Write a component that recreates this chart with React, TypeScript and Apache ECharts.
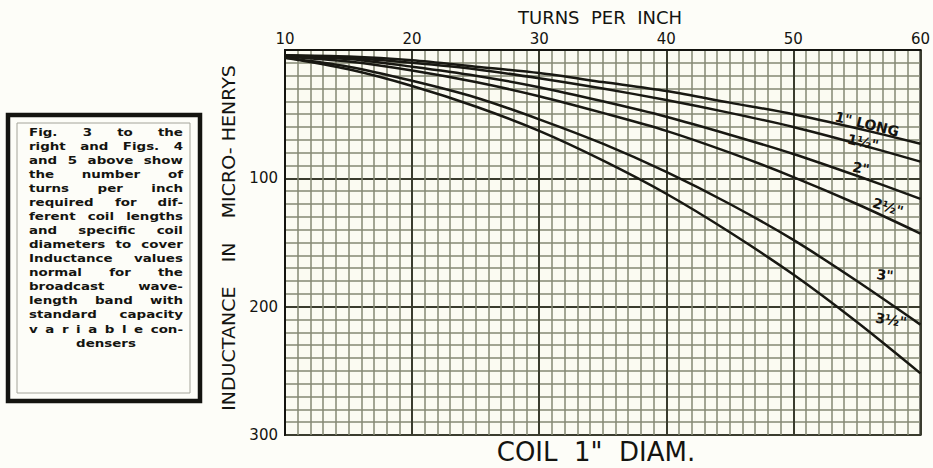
import React, { useEffect, useRef } from "react";
import * as echarts from "echarts";

// Turns per inch (x) and inductance in micro-henrys (y)
const TURNS = [10, 15, 20, 25, 30, 35, 40, 45, 50, 55, 60];
const L_1_LONG = [4, 5, 8, 13, 18, 25, 32, 41, 50, 61, 73];
const L_1_HALF = [4, 6, 10, 15, 22, 30, 39, 49, 60, 73, 87];
const L_2 = [5, 7, 13, 20, 29, 40, 52, 66, 81, 98, 116];
const L_2_HALF = [5, 9, 16, 25, 36, 49, 63, 80, 99, 120, 143];
const L_3 = [6, 13, 24, 37, 54, 73, 95, 120, 148, 180, 214];
const L_3_HALF = [6, 15, 28, 44, 63, 86, 112, 142, 175, 212, 252];

const SERIES_VALUES = [L_1_LONG, L_1_HALF, L_2, L_2_HALF, L_3, L_3_HALF];
const CURVE_LABELS = ['1" LONG', '1½"', '2"', '2½"', '3"', '3½"'];

const X_TITLE = "TURNS  PER  INCH";
const Y_TITLE = "INDUCTANCE    IN    MICRO- HENRYS";
const BOTTOM_TITLE = 'COIL  1"  DIAM.';

const NOTE_LINES: string[][] = [
  ["Fig.", "3", "to", "the"],
  ["right", "and", "Figs.", "4"],
  ["and", "5", "above", "show"],
  ["the", "number", "of"],
  ["turns", "per", "inch"],
  ["required", "for", "dif-"],
  ["ferent", "coil", "lengths"],
  ["and", "specific", "coil"],
  ["diameters", "to", "cover"],
  ["Inductance", "values"],
  ["normal", "for", "the"],
  ["broadcast", "wave-"],
  ["length", "band", "with"],
  ["standard", "capacity"],
  ["v", "a", "r", "i", "a", "b", "l", "e", "con-"],
  ["densers"],
];

const FONT = '"DejaVu Sans", "Liberation Sans", sans-serif';
const INK = "#141410";

export default function App() {
  const ref = useRef<HTMLDivElement>(null);

  useEffect(() => {
    const el = ref.current;
    if (!el) return;
    const chart = echarts.init(el, undefined, { renderer: "svg" });

    // --- justified note text ---
    const noteSize = 11;
    const noteScale = 1.22;
    const noteFont = `bold ${noteSize}px "DejaVu Sans"`;
    const canvas = document.createElement("canvas");
    const ctx = canvas.getContext("2d")!;
    ctx.font = noteFont;
    const textLeft = 29;
    const textRight = 183;
    const textW = textRight - textLeft;
    const lineTop = 132;
    const lineStep = 14.07;
    const noteTexts: any[] = [];
    NOTE_LINES.forEach((tokens, li) => {
      const y = lineTop + li * lineStep;
      if (tokens.length === 1) {
        noteTexts.push({
          type: "text",
          x: (textLeft + textRight) / 2,
          y,
          scaleX: noteScale,
          style: {
            text: tokens[0],
            font: noteFont,
            fill: INK,
            textAlign: "center",
            textVerticalAlign: "middle",
          },
        });
        return;
      }
      const widths = tokens.map((t) => ctx.measureText(t).width * noteScale);
      const sum = widths.reduce((a, b) => a + b, 0);
      const gap = (textW - sum) / (tokens.length - 1);
      let x = textLeft;
      tokens.forEach((t, i) => {
        noteTexts.push({
          type: "text",
          x,
          y,
          scaleX: noteScale,
          style: {
            text: t,
            font: noteFont,
            fill: INK,
            textAlign: "left",
            textVerticalAlign: "middle",
          },
        });
        x += widths[i] + gap;
      });
    });

    const labelPos = [
      { x: 867, y: 124, r: -0.24 },
      { x: 863, y: 142, r: -0.22 },
      { x: 861, y: 168, r: -0.18 },
      { x: 888, y: 207, r: -0.3 },
      { x: 885, y: 275, r: -0.12 },
      { x: 891, y: 320, r: -0.15 },
    ];

    const option: any = {
      animation: false,
      backgroundColor: "#fdfdf8",
      grid: {
        left: 285,
        right: 11,
        top: 50,
        bottom: 33,
        show: true,
        borderColor: INK,
        borderWidth: 2,
        backgroundColor: "#fbfbf2",
      },
      xAxis: [
        {
          type: "value",
          min: 10,
          max: 60,
          interval: 1,
          position: "bottom",
          axisLabel: { show: false },
          axisTick: { show: false },
          axisLine: { show: false },
          splitLine: { show: true, lineStyle: { color: "#858873", width: 1.5 } },
        },
        {
          type: "value",
          min: 10,
          max: 60,
          interval: 10,
          position: "top",
          axisLabel: {
            show: true,
            fontSize: 15,
            color: INK,
            margin: 4,
            fontFamily: FONT,
          },
          axisTick: { show: false },
          axisLine: { show: true, lineStyle: { color: INK, width: 2 } },
          splitLine: { show: true, lineStyle: { color: "#3a3c2e", width: 2 } },
        },
      ],
      yAxis: [
        {
          type: "value",
          min: 0,
          max: 300,
          interval: 10,
          inverse: true,
          axisLabel: { show: false },
          axisTick: { show: false },
          axisLine: { show: false },
          splitLine: { show: true, lineStyle: { color: "#858873", width: 1.5 } },
        },
        {
          type: "value",
          min: 0,
          max: 300,
          interval: 100,
          inverse: true,
          position: "left",
          axisLabel: {
            show: true,
            fontSize: 15,
            color: INK,
            margin: 7,
            fontFamily: FONT,
            formatter: (v: number) => (v === 0 ? "" : String(v)),
          },
          axisTick: { show: false },
          axisLine: { show: true, lineStyle: { color: INK, width: 2 } },
          splitLine: { show: true, lineStyle: { color: "#3a3c2e", width: 2 } },
        },
      ],
      series: SERIES_VALUES.map((vals, si) => ({
        type: "line",
        name: CURVE_LABELS[si],
        xAxisIndex: 1,
        yAxisIndex: 1,
        smooth: 0.3,
        symbol: "none",
        lineStyle: { color: "#181812", width: 2.5 },
        data: TURNS.map((t, i) => [t, vals[i]]),
        z: 5,
      })),
      graphic: [
        {
          type: "text",
          x: 600,
          y: 17,
          style: {
            text: X_TITLE,
            font: `18px ${FONT}`,
            fill: INK,
            textAlign: "center",
            textVerticalAlign: "middle",
          },
        },
        {
          type: "text",
          x: 596,
          y: 452,
          style: {
            text: BOTTOM_TITLE,
            font: `26px ${FONT}`,
            fill: INK,
            textAlign: "center",
            textVerticalAlign: "middle",
          },
        },
        {
          type: "text",
          x: 229,
          y: 238,
          rotation: Math.PI / 2,
          scaleX: 1.12,
          style: {
            text: Y_TITLE,
            font: `17px ${FONT}`,
            fill: INK,
            textAlign: "center",
            textVerticalAlign: "middle",
          },
        },
        ...CURVE_LABELS.map((lab, i) => ({
          type: "text",
          x: labelPos[i].x,
          y: labelPos[i].y,
          rotation: labelPos[i].r,
          z: 10,
          style: {
            text: lab,
            font: `bold 14px ${FONT}`,
            fill: INK,
            textAlign: "center",
            textVerticalAlign: "middle",
          },
        })),
        {
          type: "rect",
          shape: { x: 8, y: 115, width: 192, height: 286 },
          style: { fill: "#fdfdf8", stroke: INK, lineWidth: 4.5 },
        },
        {
          type: "rect",
          shape: { x: 17, y: 123, width: 173, height: 270 },
          style: { fill: "none", stroke: "#a4a49a", lineWidth: 1 },
        },
        ...noteTexts,
      ],
    };

    chart.setOption(option);
    return () => chart.dispose();
  }, []);

  return (
    <div
      ref={ref}
      style={{ position: "absolute", left: 0, top: 0, width: 933, height: 468 }}
    />
  );
}
